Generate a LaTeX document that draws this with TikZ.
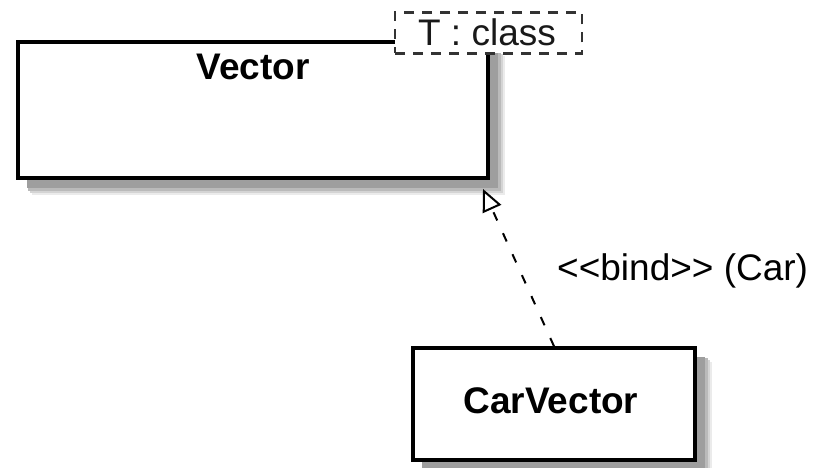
\documentclass[tikz,border=0pt]{standalone}
\usepackage{fontspec}
\setmainfont{Liberation Sans}
\usetikzlibrary{arrows.meta}
\tikzset{
  x=1pt, y=-1pt,
  umlbox/.style={draw=black, line width=3.5pt, fill=white, inner sep=0pt},
  txt/.style={font=\fontsize{37}{40}\selectfont, inner sep=0pt},
  boldtxt/.style={font=\fontsize{37}{40}\selectfont\bfseries, inner sep=0pt},
  tmpl/.style={draw=black!80, line width=2.5pt, dash pattern=on 10pt off 8pt, fill=white, inner sep=0pt},
  bindline/.style={line width=2pt, dash pattern=on 9pt off 14pt, -{Triangle[open, length=22pt, width=20pt, line width=2pt]}},
}
\newcommand{\boxshadow}[4]{%
  \fill[black!8] (#1+14,#2+14) rectangle (#3+17,#4+17);
  \fill[black!17] (#1+12,#2+12) rectangle (#3+15,#4+15);
  \fill[black!27] (#1+10,#2+10) rectangle (#3+13,#4+13);
  \fill[black!38] (#1+9,#2+9) rectangle (#3+10,#4+10);
}
\begin{document}
\begin{tikzpicture}
\useasboundingbox (0,0) rectangle (815,468);
% shadows
\boxshadow{18}{42}{488}{178}
\boxshadow{413}{348}{695}{460}
% Vector class
\node[umlbox, minimum width=470pt, minimum height=136pt] (vec) at (253,110) {};
\node[boldtxt, anchor=base] (vecname) at (253,80) {Vector};
% template parameter
\node[tmpl, minimum width=187pt, minimum height=41pt] (tp) at (488.5,33) {};
\node[txt, text=black!90, anchor=base] (tptxt) at (487,46) {T : class};
% CarVector class
\node[umlbox, minimum width=282pt, minimum height=112pt] (cv) at (554,404) {};
\node[boldtxt, anchor=base] (cvname) at (551,413) {CarVector};
% bind dependency
\coordinate (tip) at (483,189);
\draw[bindline] (cv.north) -- (tip);
\node[txt, anchor=west] (bind) at (557,271) {<\kern0pt<bind>\kern0pt> (Car)};
\end{tikzpicture}
\end{document}
